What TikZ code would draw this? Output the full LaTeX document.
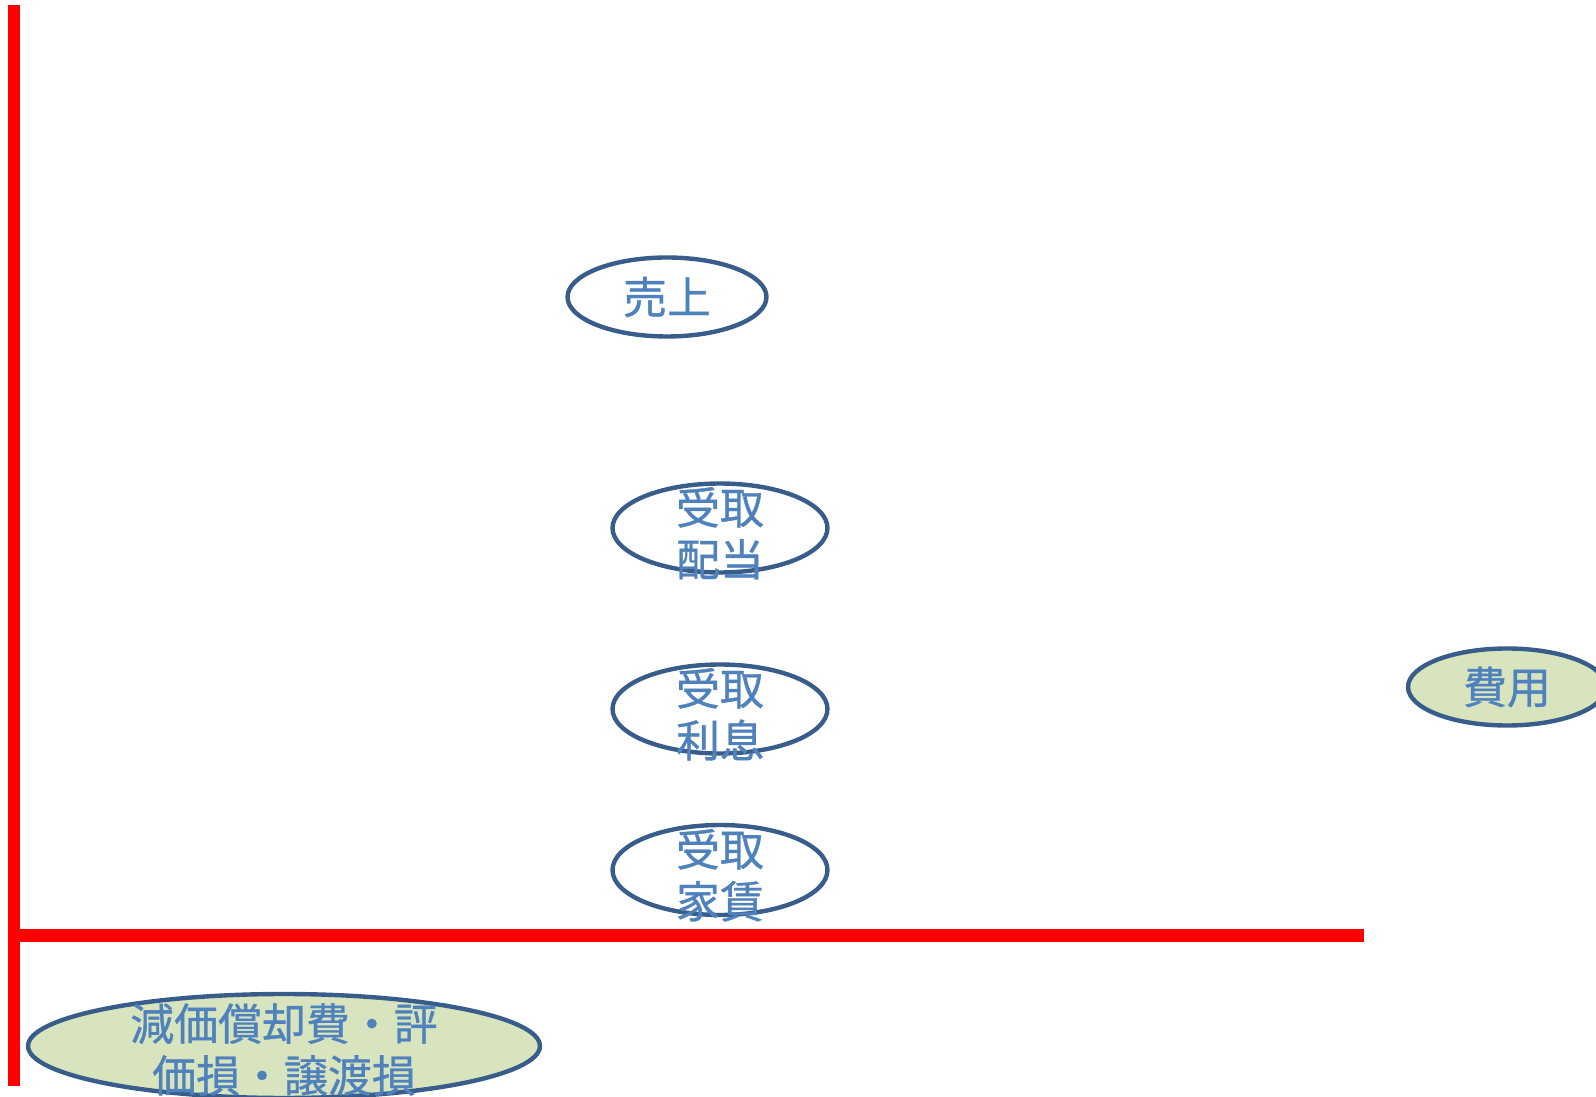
\documentclass[tikz,border=0pt]{standalone}
\usepackage{fontspec}
\usepackage{tikz}
\usetikzlibrary{shapes.geometric, positioning}
\setmainfont{Noto Sans CJK JP}[FakeBold=0.8]
\definecolor{bdblue}{HTML}{385D8A}
\definecolor{txtblue}{HTML}{4F81BD}
\definecolor{paleolive}{HTML}{D7E4BD}
\definecolor{axisred}{HTML}{FF0000}

\begin{document}
\begin{tikzpicture}[
    x=0.02cm, y=-0.02cm,
    bubble/.style={ellipse, draw=bdblue, line width=2.5pt, fill=#1, inner sep=0pt},
    bubble/.default=white,
    word/.style={text=txtblue, font=\fontsize{25}{29.5}\selectfont, align=center, inner sep=0pt},
    axis/.style={draw=axisred, line width=7pt},
]
\useasboundingbox (0,0) rectangle (1596,1097);

% axes
\coordinate (top) at (14,5);
\coordinate (foot) at (14,1086);
\coordinate (corner) at (14,935.5);
\coordinate (rend) at (1364,935.5);
\draw[axis] (top) -- (foot);
\draw[axis] (corner) -- (rend);

% revenue side
\node[bubble, minimum width=3.98cm, minimum height=1.58cm] (rev) at (667,297) {};
\node[word] (rev-t) at (rev) {売上};
\node[bubble, minimum width=4.3cm, minimum height=1.78cm] (divd) at (720,528) {};
\node[word] (divd-t) at ([yshift=-3]divd) {受取\\配当};
\node[bubble, minimum width=4.3cm, minimum height=1.78cm] (intr) at (720,709) {};
\node[word] (intr-t) at ([yshift=-3]intr) {受取\\利息};
\node[bubble, minimum width=4.3cm, minimum height=1.8cm] (rent) at (720,870) {};
\node[word] (rent-t) at ([yshift=-3]rent) {受取\\家賃};

% expense side
\node[bubble=paleolive, minimum width=3.96cm, minimum height=1.54cm] (cost) at (1507,687) {};
\node[word] (cost-t) at (cost) {費用};
\node[bubble=paleolive, minimum width=10.24cm, minimum height=2.08cm] (loss) at (284,1046) {};
\node[word] (loss-t) at ([yshift=-2]loss) {減価償却費・評\\価損・譲渡損};

\end{tikzpicture}
\end{document}
